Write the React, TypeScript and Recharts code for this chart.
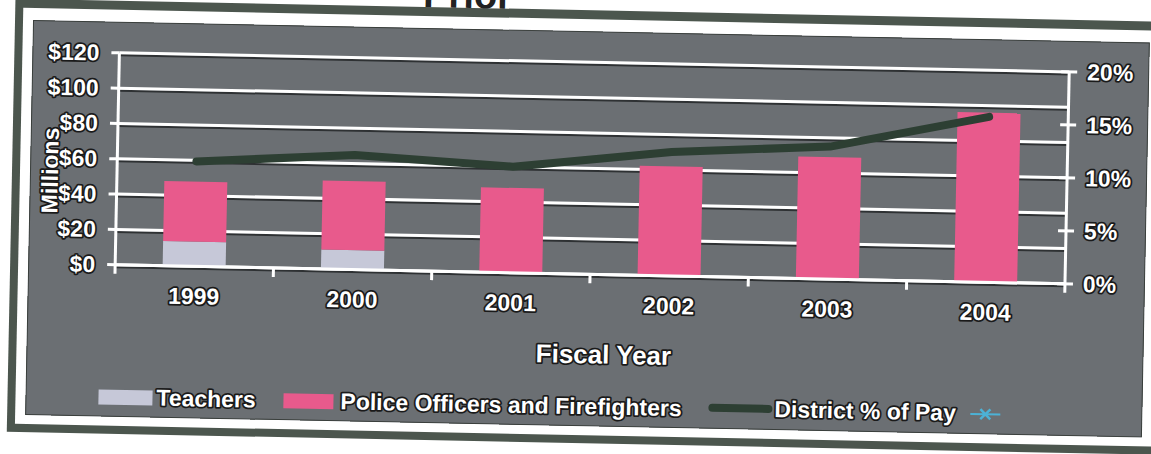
import React from "react";
import { ComposedChart, Bar, Line, XAxis, YAxis, CartesianGrid } from "recharts";

// ------- data -------
const years = ["1999", "2000", "2001", "2002", "2003", "2004"];
const teachers = [14, 11, 0, 0, 0, 0]; // $ millions
const police = [34, 39, 48, 62, 69, 96]; // $ millions
const districtPct = [9.9, 10.8, 10.0, 11.7, 12.5, 15.6]; // % of pay
const leftTicks = [0, 20, 40, 60, 80, 100, 120];
const rightTicks = [0, 5, 10, 15, 20];

const data = years.map((year, i) => ({
  year,
  teachers: teachers[i],
  police: police[i],
  pct: districtPct[i],
}));

const W = 1151;
const H = 454;
const TILT = 1.15; // scanned page is a little crooked

const BG = "#6b6f73";
const PINK = "#e85a8c";
const LAV = "#c6c8d8";
const GREEN = "#2d3f33";
const BLUE = "#4cb2d6";
const FONT = "'Liberation Sans', Arial, sans-serif";

const txt: React.CSSProperties = {
  fill: "#fff",
  stroke: "#1a1a1a",
  strokeWidth: 3.5,
  strokeLinejoin: "round",
  paintOrder: "stroke",
  fontFamily: FONT,
  fontWeight: 700,
  fontSize: 23,
};

function LeftTick({ x, y, payload }: any) {
  return (
    <text x={x} y={y} dy={8} textAnchor="end" style={txt}>
      ${payload.value}
    </text>
  );
}

function RightTick({ x, y, payload }: any) {
  const ax = x - 18; // axis line sits tickSize + tickMargin left of the label
  return (
    <g>
      <line x1={ax - 8} x2={ax + 8} y1={y} y2={y} stroke="#fff" strokeWidth={3} />
      <text x={x} y={y} dy={8} textAnchor="start" style={txt}>
        {payload.value}%
      </text>
    </g>
  );
}

// label in the middle of the band, tick marks on the band edges (Excel style)
function XTick({ x, y, payload, index }: any) {
  const half = payload?.offset || 79;
  const last = index === years.length - 1;
  return (
    <g>
      <line x1={x - half} x2={x - half} y1={y - 8} y2={y + 1} stroke="#fff" strokeWidth={3} />
      {last && (
        <line x1={x + half} x2={x + half} y1={y - 8} y2={y + 1} stroke="#fff" strokeWidth={3} />
      )}
      <text x={x} y={y} dy={30} textAnchor="middle" style={txt}>
        {payload.value}
      </text>
    </g>
  );
}

function Legend() {
  return (
    <svg width={W} height={H} style={{ position: "absolute", left: 0, top: 0 }}>
      {/* clipped title from the page above */}
      <text x={463} y={10} textAnchor="middle" fontFamily={FONT} fontWeight={700} fontSize={38} fill="#222">
        Prior
      </text>
      <rect x={102} y={399} width={54} height={15} fill={LAV} />
      <text x={160} y={414} style={txt}>Teachers</text>
      <rect x={287} y={399} width={50} height={15} fill={PINK} />
      <text x={344} y={414} style={txt}>Police Officers and Firefighters</text>
      <line x1={716} x2={772} y1={405} y2={405} stroke={GREEN} strokeWidth={8} strokeLinecap="round" />
      <text x={778} y={413} style={txt}>District % of Pay</text>
      <line x1={974} x2={1004} y1={406} y2={406} stroke={BLUE} strokeWidth={2} />
      <path d="M984 401 L994 411 M994 401 L984 411" stroke={BLUE} strokeWidth={2.5} />
    </svg>
  );
}

export default function App() {
  return (
    <div style={{ position: "absolute", left: 0, top: 0, width: W, height: H, overflow: "hidden", background: "#fff" }}>
      <div
        style={{
          position: "absolute",
          left: 0,
          top: 0,
          width: W,
          height: H,
          transform: `rotate(${TILT}deg)`,
          transformOrigin: "50% 50%",
        }}
      >
        {/* frame: dark edge, white band, grey panel */}
        <div style={{ position: "absolute", left: 11, top: 10, width: 1153, height: 433, background: "#4c564e" }} />
        <div style={{ position: "absolute", left: 19, top: 19, width: 1137, height: 416, background: "#fff" }} />
        <div style={{ position: "absolute", left: 29, top: 31, width: 1117, height: 395, background: BG, boxShadow: "inset 0 0 0 1px #3a3f3c" }} />

        <div style={{ position: "absolute", left: 0, top: 0 }}>
          <ComposedChart
            width={W}
            height={H}
            data={data}
            margin={{ top: 62, right: 0, bottom: 84, left: 0 }}
            barCategoryGap="30%"
          >
            <CartesianGrid yAxisId="left" vertical={false} stroke="#2e3133" strokeWidth={2} transform="translate(0 2.5)" />
            <CartesianGrid yAxisId="left" vertical={false} stroke="#fff" strokeWidth={3} />
            <XAxis
              dataKey="year"
              height={96}
              tickSize={8}
              tickMargin={0}
              tickLine={false}
              axisLine={{ stroke: "#fff", strokeWidth: 3 }}
              tick={<XTick />}
              interval={0}
              label={{
                content: ({ viewBox }: any) => (
                  <text
                    x={viewBox.x + viewBox.width / 2 + 15}
                    y={viewBox.y + 89}
                    textAnchor="middle"
                    style={{ ...txt, fontSize: 26 }}
                  >
                    Fiscal Year
                  </text>
                ),
              }}
            />
            <YAxis
              yAxisId="left"
              width={116}
              domain={[0, 120]}
              ticks={leftTicks}
              tickSize={8}
              tickMargin={12}
              tickLine={{ stroke: "#fff", strokeWidth: 3 }}
              axisLine={{ stroke: "#fff", strokeWidth: 3 }}
              tick={<LeftTick />}
              label={{
                content: ({ viewBox }: any) => (
                  <text
                    x={49}
                    y={viewBox.y + viewBox.height / 2 + 13}
                    textAnchor="middle"
                    dominantBaseline="central"
                    transform={`rotate(-90 49 ${viewBox.y + viewBox.height / 2 + 13})`}
                    style={txt}
                  >
                    Millions
                  </text>
                ),
              }}
            />
            <YAxis
              yAxisId="right"
              orientation="right"
              width={85}
              domain={[0, 20]}
              ticks={rightTicks}
              tickSize={8}
              tickMargin={10}
              tickLine={false}
              axisLine={{ stroke: "#fff", strokeWidth: 3 }}
              tick={<RightTick />}
            />
            <Bar yAxisId="left" dataKey="teachers" name="Teachers" stackId="a" fill={LAV} isAnimationActive={false} />
            <Bar
              yAxisId="left"
              dataKey="police"
              name="Police Officers and Firefighters"
              stackId="a"
              fill={PINK}
              isAnimationActive={false}
            />
            <Line
              yAxisId="right"
              dataKey="pct"
              name="District % of Pay"
              type="linear"
              stroke={GREEN}
              strokeWidth={8}
              strokeLinecap="round"
              strokeLinejoin="round"
              dot={false}
              activeDot={false}
              isAnimationActive={false}
            />
          </ComposedChart>
        </div>

        <Legend />
      </div>
    </div>
  );
}
